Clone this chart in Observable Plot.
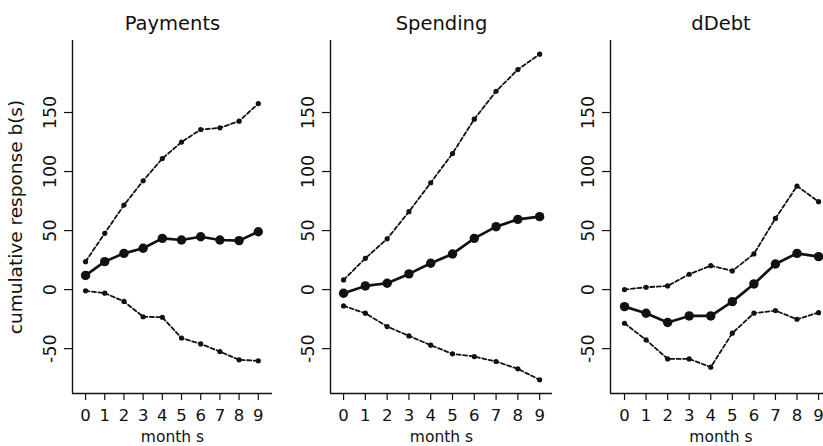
<!DOCTYPE html>
<html><head><meta charset="utf-8">
<script src="https://cdn.jsdelivr.net/npm/d3@7"></script>
<script src="https://cdn.jsdelivr.net/npm/@observablehq/plot@0.6"></script>
<style>
html,body{margin:0;padding:0;background:#fff;overflow:hidden}
#chart{position:relative;width:823px;height:446px;overflow:hidden;background:#fff}
#chart svg{position:absolute;top:0}
</style></head><body><div id="chart"></div>
<script>
const months = [0, 1, 2, 3, 4, 5, 6, 7, 8, 9];
const panelTitles = ["Payments", "Spending", "dDebt"];
const yTitle = "cumulative response b(s)";
const xTitle = "month s";
const yTicks = [-50, 0, 50, 100, 150];

const paymentsMean  = [12, 23.7, 30.7, 35, 43.4, 42, 44.8, 42, 41.5, 49];
const paymentsUpper = [23.7, 47.7, 71.6, 92.2, 111, 125, 135.6, 137, 142.7, 157.6];
const paymentsLower = [-1, -3, -10, -23, -23.4, -41, -46, -52.5, -59.5, -60.3];

const spendingMean  = [-3.1, 3.1, 5.4, 13.3, 22.3, 30.2, 43.4, 53.3, 59.5, 61.8];
const spendingUpper = [8.2, 26.5, 43, 66, 90.5, 115.3, 144.4, 168, 186.4, 199.4];
const spendingLower = [-13.8, -20, -31.3, -39.2, -47.1, -54.4, -56.7, -60.9, -67.1, -76.4];

const debtMean  = [-14.4, -20, -27.9, -22.3, -22.3, -10.2, 4.8, 21.7, 30.7, 27.9];
const debtUpper = [0, 2, 3.1, 13, 20.3, 15.8, 30.2, 60.3, 87.7, 74.5];
const debtLower = [-28.5, -42.6, -58.7, -58.7, -65.7, -36.9, -20, -17.8, -25.1, -19.5];

const series = [
  [paymentsMean, paymentsUpper, paymentsLower],
  [spendingMean, spendingUpper, spendingLower],
  [debtMean, debtUpper, debtLower]
];

// layout (positions/sizes)
const H = 446, MT = 40, MB = 53;
const yDomain = [-88, 211];
const layout = [
  {left: 0,   width: 290, ml: 72, mr: 18, xd: [-0.68, 9.74]},
  {left: 290, width: 280, ml: 40, mr: 18, xd: [-0.60, 9.59]},
  {left: 570, width: 280, ml: 40, mr: 19, xd: [-0.65, 9.60]}
];
const ink = "#111";
const font = "DejaVu Sans";

const chart = document.getElementById("chart");
layout.forEach((L, p) => {
  const [mean, upper, lower] = series[p];
  const rows = months.map((m, i) => ({m, mean: mean[i], upper: upper[i], lower: lower[i]}));
  const marks = [
    Plot.ruleX([L.xd[0]], {stroke: ink, strokeWidth: 1.4}),
    Plot.ruleY([yDomain[0]], {stroke: ink, strokeWidth: 1.4}),
    Plot.axisY(yTicks, {anchor: "left", tickSize: 8, tickPadding: 9, tickRotate: -90, label: null, fontSize: 17.5, strokeWidth: 1.2, tickFormat: d => String(d)}),
    Plot.axisX(months, {anchor: "bottom", tickSize: 7, tickPadding: 9, label: null, fontSize: 16.5, strokeWidth: 1.2, tickFormat: d => String(d)}),
    Plot.line(rows, {x: "m", y: "upper", stroke: ink, strokeWidth: 1.8, strokeDasharray: "4,2.5"}),
    Plot.dot(rows, {x: "m", y: "upper", r: 2.6, fill: ink, stroke: null}),
    Plot.line(rows, {x: "m", y: "lower", stroke: ink, strokeWidth: 1.8, strokeDasharray: "4,2.5"}),
    Plot.dot(rows, {x: "m", y: "lower", r: 2.6, fill: ink, stroke: null}),
    Plot.line(rows, {x: "m", y: "mean", stroke: ink, strokeWidth: 2.7}),
    Plot.dot(rows, {x: "m", y: "mean", r: 4.7, fill: ink, stroke: null}),
    Plot.text([panelTitles[p]], {text: d => d, frameAnchor: "top", dy: -10.5, lineAnchor: "bottom", fontSize: 19.5, fill: ink}),
    Plot.text([xTitle], {text: d => d, frameAnchor: "bottom", dy: 48.5, lineAnchor: "bottom", fontSize: 15.5, fill: ink})
  ];
  if (p === 0) {
    marks.push(Plot.text([yTitle], {text: d => d, frameAnchor: "left", dx: -56, rotate: -90, lineAnchor: "middle", textAnchor: "middle", fontSize: 18.5, fill: ink}));
  }
  const svg = Plot.plot({
    width: L.width,
    height: H,
    marginTop: MT,
    marginBottom: MB,
    marginLeft: L.ml,
    marginRight: L.mr,
    style: {fontFamily: font, fontSize: "17px", color: ink, background: "transparent", overflow: "visible"},
    x: {domain: L.xd, nice: false},
    y: {domain: yDomain, nice: false},
    marks
  });
  svg.style.left = L.left + "px";
  chart.appendChild(svg);
});
</script>
</body></html>
